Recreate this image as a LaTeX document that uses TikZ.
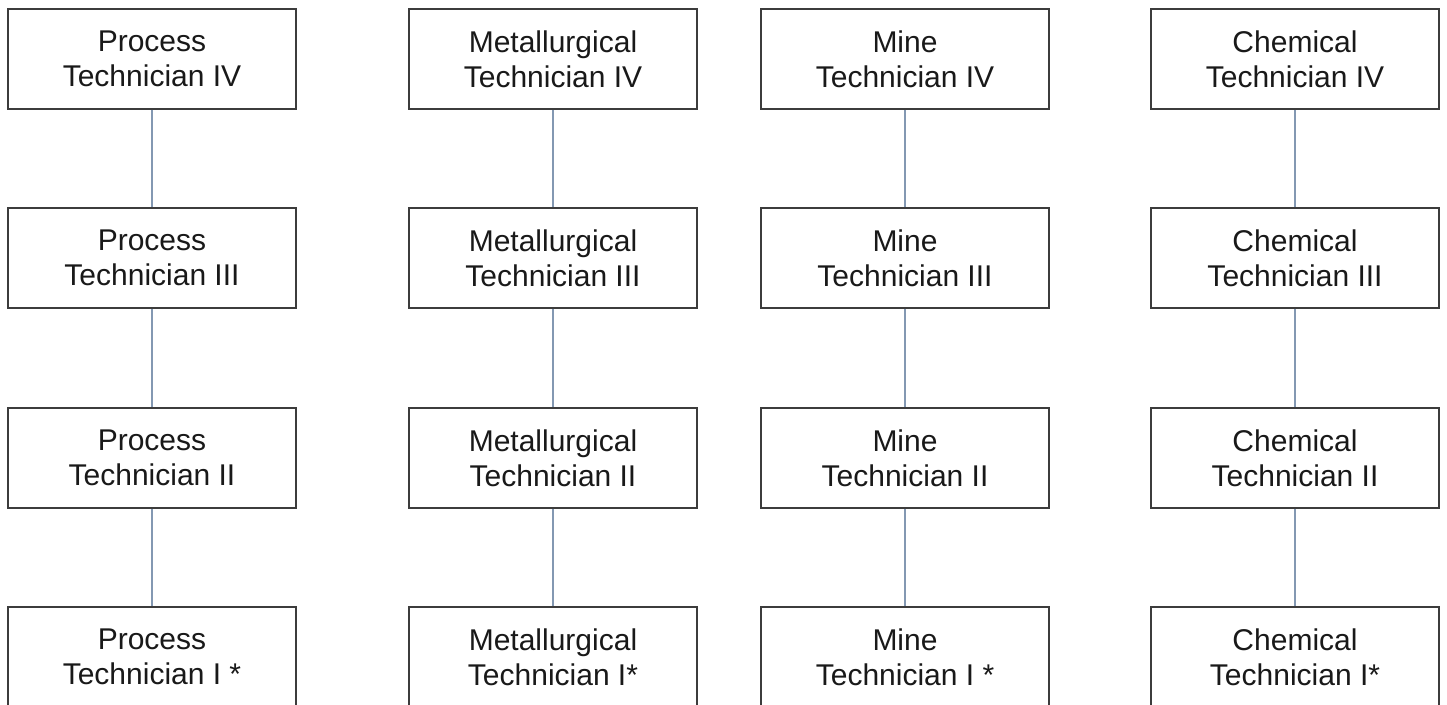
\documentclass[tikz,border=0pt]{standalone}
\usepackage{fontspec}
\setmainfont{Liberation Sans}
\definecolor{boxline}{HTML}{3C3C3C}
\definecolor{conn}{HTML}{8398B2}
\begin{document}
\begin{tikzpicture}[x=1pt,y=-1pt,
  rolebox/.style={draw=boxline,line width=1.8pt,fill=white,minimum width=288pt,minimum height=100pt,inner sep=0pt,align=center,
    font=\fontsize{30pt}{35pt}\selectfont,text=black!90},
  link/.style={draw=conn,line width=1.4pt}]
\useasboundingbox (0,0) rectangle (1447,704);
\clip (0,0) rectangle (1447,704);
\fill[white] (0,0) rectangle (1447,704);
% Process
\node[rolebox] (p4) at (152,59) {Process\\Technician IV};
\node[rolebox] (p3) at (152,258) {Process\\Technician III};
\node[rolebox] (p2) at (152,458) {Process\\Technician II};
\node[rolebox] (p1) at (152,657) {Process\\Technician I *};
% Metallurgical
\node[rolebox] (m4) at (553,59) {Metallurgical\\Technician IV};
\node[rolebox] (m3) at (553,258) {Metallurgical\\Technician III};
\node[rolebox] (m2) at (553,458) {Metallurgical\\Technician II};
\node[rolebox] (m1) at (553,657) {Metallurgical\\Technician I*};
% Mine
\node[rolebox] (n4) at (905,59) {Mine\\Technician IV};
\node[rolebox] (n3) at (905,258) {Mine\\Technician III};
\node[rolebox] (n2) at (905,458) {Mine\\Technician II};
\node[rolebox] (n1) at (905,657) {Mine\\Technician I *};
% Chemical
\node[rolebox] (c4) at (1295,59) {Chemical\\Technician IV};
\node[rolebox] (c3) at (1295,258) {Chemical\\Technician III};
\node[rolebox] (c2) at (1295,458) {Chemical\\Technician II};
\node[rolebox] (c1) at (1295,657) {Chemical\\Technician I*};
% connectors
\foreach \k in {p,m,n,c}{
  \draw[link] (\k4.south) -- (\k3.north);
  \draw[link] (\k3.south) -- (\k2.north);
  \draw[link] (\k2.south) -- (\k1.north);
}
\end{tikzpicture}
\end{document}
